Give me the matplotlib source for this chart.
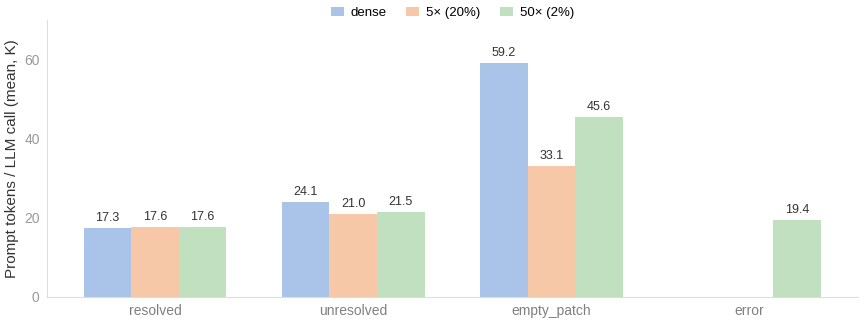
import matplotlib.pyplot as plt
import numpy as np

plt.rcParams['font.family'] = ['Liberation Sans', 'DejaVu Sans']

categories = ["resolved", "unresolved", "empty_patch", "error"]
series_names = ["dense", "5\u00d7 (20%)", "50\u00d7 (2%)"]
dense = [17.3, 24.1, 59.2, None]
x5 = [17.6, 21.0, 33.1, None]
x50 = [17.6, 21.5, 45.6, 19.4]
colors = ["#a9c4e8", "#f6c8a7", "#c0e0c0"]

fig = plt.figure(figsize=(8.64, 3.23), dpi=100)
ax = fig.add_axes([0.054, 0.081, 0.939, 0.857])

x = np.arange(len(categories))
width = 0.24
for i, (name, vals) in enumerate(zip(series_names, [dense, x5, x50])):
    idx = [j for j, v in enumerate(vals) if v is not None]
    hs = [vals[j] for j in idx]
    bars = ax.bar(x[idx] + (i - 1) * width, hs, width, color=colors[i],
                  label=name, linewidth=0)
    for b, h in zip(bars, hs):
        ax.text(b.get_x() + b.get_width() / 2, h + 1.0, f"{h:.1f}", ha="center",
                va="bottom", fontsize=9, color="#333333")

ax.set_xticks(x)
ax.set_xticklabels(categories)
ax.set_xlim(-0.546, 3.546)
ax.set_ylim(0, 70)
ax.set_yticks([0, 20, 40, 60])
ax.tick_params(axis="x", length=0, labelsize=10, colors="#808080", pad=5)
ax.tick_params(axis="y", length=0, labelsize=10, colors="#999999", pad=5)
ax.set_ylabel("Prompt tokens / LLM call (mean, K)", fontsize=11, color="#333333")
for s in ["top", "right"]:
    ax.spines[s].set_visible(False)
for s in ["left", "bottom"]:
    ax.spines[s].set_color("#dddddd")

ax.legend(loc="lower center", bbox_to_anchor=(0.5, 0.985), ncol=3, frameon=False,
          fontsize=9.5, handlelength=1.0, handleheight=0.7, handletextpad=0.5,
          columnspacing=1.5, borderaxespad=0)

plt.savefig("out.png")
